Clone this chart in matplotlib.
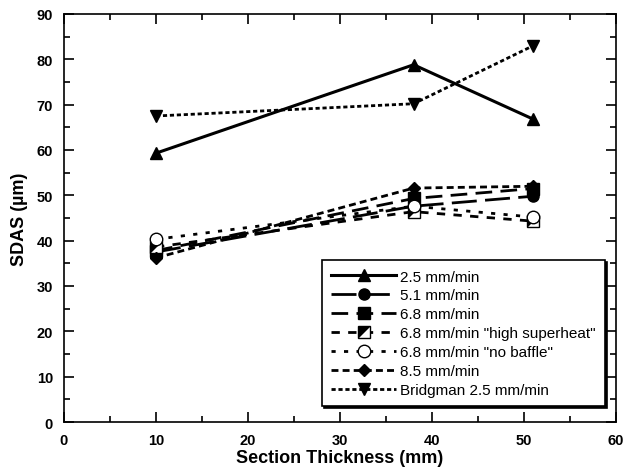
import matplotlib
matplotlib.use("Agg")
import matplotlib.pyplot as plt
from matplotlib.legend_handler import HandlerTuple
from matplotlib.ticker import MultipleLocator

plt.rcParams['font.family'] = ['Liberation Sans', 'DejaVu Sans']

thickness = [10, 38, 51]
sdas_25 = [59.3, 78.8, 66.8]
sdas_51 = [37.5, 47.6, 49.8]
sdas_68 = [37.8, 49.3, 51.5]
sdas_68_hs = [38.6, 46.4, 44.3]
sdas_68_nb = [40.3, 47.6, 45.2]
sdas_85 = [36.2, 51.6, 52.0]
sdas_bridg = [67.5, 70.2, 83.0]

labels = ['2.5 mm/min', '5.1 mm/min', '6.8 mm/min',
          '6.8 mm/min "high superheat"', '6.8 mm/min "no baffle"',
          '8.5 mm/min', 'Bridgman 2.5 mm/min']

fig = plt.figure(figsize=(6.25, 4.77), dpi=100)
ax = fig.add_axes([0.1024, 0.1132, 0.8832, 0.8554])

ms = 8
h1, = ax.plot(thickness, sdas_25, '-', color='k', lw=2.2, marker='^', ms=ms)
h2, = ax.plot(thickness, sdas_51, color='k', lw=2, ls=(0, (9, 3)),
              marker='o', ms=ms)
h3, = ax.plot(thickness, sdas_68, color='k', lw=2, ls=(0, (6, 3)),
              marker='s', ms=ms)
# half filled square: white square + black triangle on top
tri = [(-1, -1), (-1, 1), (1, 1), (-1, -1)]
h4a, = ax.plot(thickness, sdas_68_hs, color='k', lw=2, ls=(0, (3, 3)),
               marker='s', ms=ms, mfc='white', mec='k', mew=1)
h4b, = ax.plot(thickness, sdas_68_hs, ls='none', marker=tri, ms=ms,
               color='k', mew=0)
h5, = ax.plot(thickness, sdas_68_nb, color='k', lw=2, ls=(0, (1.5, 3)),
              marker='o', ms=ms + 1, mfc='white', mec='k', mew=1)
h6, = ax.plot(thickness, sdas_85, color='k', lw=2, ls=(0, (2.5, 1.5)),
              marker='D', ms=ms - 1.5)
h7, = ax.plot(thickness, sdas_bridg, color='k', lw=2, ls=(0, (1.5, 1)),
              marker='v', ms=ms)

ax.set_xlim(0, 60)
ax.set_ylim(0, 90)
ax.xaxis.set_major_locator(MultipleLocator(10))
ax.xaxis.set_minor_locator(MultipleLocator(5))
ax.yaxis.set_major_locator(MultipleLocator(10))
ax.yaxis.set_minor_locator(MultipleLocator(5))
ax.tick_params(which='both', direction='in', top=True, right=True,
               width=1.2, labelsize=10.5, pad=8)
ax.tick_params(which='major', length=7)
ax.tick_params(which='minor', length=4)
for lab in ax.get_xticklabels() + ax.get_yticklabels():
    lab.set_fontweight('bold')
for s in ax.spines.values():
    s.set_linewidth(1.2)

ax.set_xlabel('Section Thickness (mm)', fontsize=13, fontweight='bold',
              labelpad=1)
ax.set_ylabel('SDAS (\u00b5m)', fontsize=13, fontweight='bold', labelpad=6)

leg = ax.legend([h1, h2, h3, (h4a, h4b), h5, h6, h7], labels,
                handler_map={tuple: HandlerTuple(ndivide=1, pad=0)},
                loc='lower right', bbox_to_anchor=(0.98, 0.039),
                borderaxespad=0, fontsize=11, handlelength=4.2,
                handletextpad=0.3, labelspacing=0.32, borderpad=0.6,
                fancybox=False, framealpha=1, edgecolor='k',
                shadow={'color': 'black', 'alpha': 1, 'ox': 1.2, 'oy': -1.2})
leg.get_frame().set_linewidth(1.2)

fig.savefig('out.png', dpi=100)
